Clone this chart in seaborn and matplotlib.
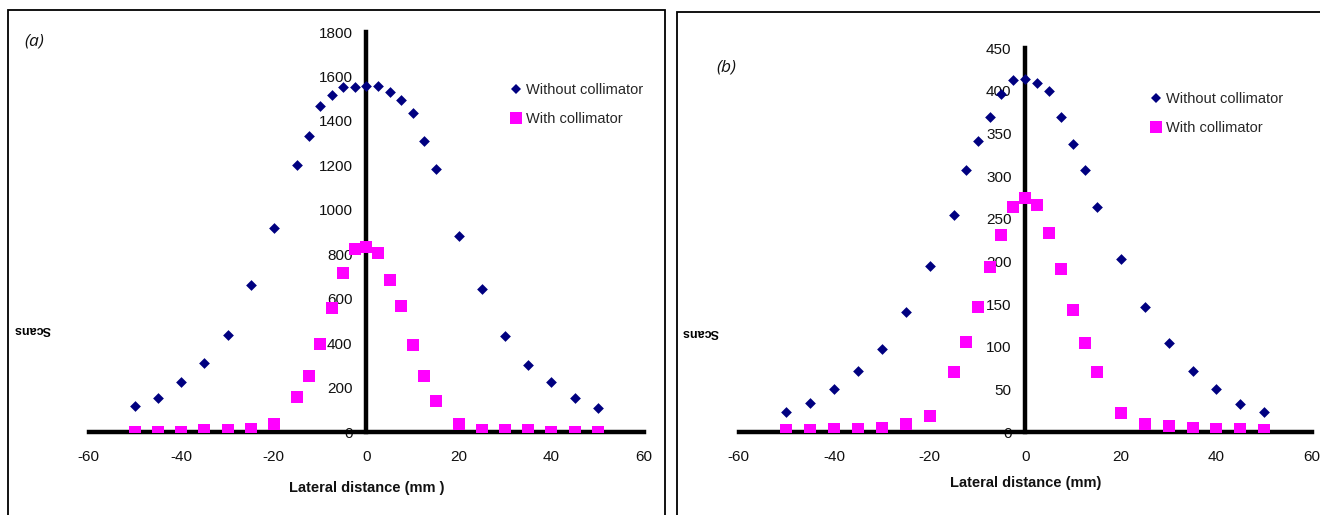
import matplotlib
matplotlib.use("Agg")
import matplotlib.pyplot as plt
import seaborn as sns
import pandas as pd
from matplotlib.patches import Rectangle
from matplotlib.lines import Line2D

sns.set_theme(style="white")
plt.rcParams["font.family"] = ["Liberation Sans", "DejaVu Sans"]
plt.rcParams["axes.unicode_minus"] = False

# Lateral positions (mm) of the measurement points
lateral_mm = [-50, -45, -40, -35, -30, -25, -20, -15, -12.5, -10, -7.5, -5, -2.5,
              0, 2.5, 5, 7.5, 10, 12.5, 15, 20, 25, 30, 35, 40, 45, 50]

# Panel (a)
a_without = [115, 153, 223, 310, 438, 663, 918, 1203, 1330, 1468, 1515, 1551, 1551,
             1555, 1555, 1528, 1495, 1435, 1308, 1183, 880, 643, 430, 303, 223, 151, 108]
a_with = [0, 0, 0, 10, 10, 15, 37, 156, 253, 398, 556, 715, 825,
          831, 805, 685, 565, 393, 253, 141, 37, 10, 10, 10, 0, 0, 0]

# Panel (b)
b_without = [24, 34, 50, 72, 97, 141, 194, 254, 307, 341, 369, 396, 412,
             414, 409, 400, 369, 337, 307, 264, 203, 147, 104, 72, 50, 33, 23]
b_with = [2, 2, 3, 3, 5, 9, 19, 70, 106, 147, 193, 231, 264,
          274, 266, 233, 191, 143, 104, 70, 22, 9, 7, 5, 3, 3, 2]

x_ticks = [-60, -40, -20, 0, 20, 40, 60]
a_y_ticks = [0, 200, 400, 600, 800, 1000, 1200, 1400, 1600, 1800]
b_y_ticks = [0, 50, 100, 150, 200, 250, 300, 350, 400, 450]

series_names = ["Without collimator", "With collimator"]
navy = "#000080"
magenta = "#FF00FF"

W, H = 1320, 515
fig = plt.figure(figsize=(W / 100, H / 100), dpi=100)
fig.patch.set_facecolor("white")

# Panel frames
fig.add_artist(Rectangle((8 / W, -0.02), (665 - 8) / W, (H - 10) / H + 0.02,
                         transform=fig.transFigure, fill=False, ec="black", lw=1.3))
fig.add_artist(Rectangle((677 / W, -0.02), (W + 5 - 677) / W, (H - 12) / H + 0.02,
                         transform=fig.transFigure, fill=False, ec="black", lw=1.3))


def make_panel(rect, without, with_, yticks, ymax, label, label_xy, leg_xy, xlabel, xlabel_y):
    ax = fig.add_axes(rect)
    df = pd.DataFrame({"x": lateral_mm, "without": without, "with": with_})
    sns.scatterplot(data=df, x="x", y="without", marker="D", s=30, color=navy,
                    linewidth=0, ax=ax, zorder=4)
    sns.scatterplot(data=df, x="x", y="with", marker="s", s=68, color=magenta,
                    linewidth=0, ax=ax, zorder=5)
    ax.set_xlim(-60, 60)
    ax.set_ylim(0, ymax)
    ax.set_facecolor("none")
    for side in ("top", "right"):
        ax.spines[side].set_visible(False)
    ax.spines["left"].set_position(("data", 0))
    ax.spines["bottom"].set_position(("data", 0))
    for side in ("left", "bottom"):
        ax.spines[side].set_linewidth(3.2)
        ax.spines[side].set_color("black")
        ax.spines[side].set_zorder(3)
    ax.set_xticks(x_ticks)
    ax.set_xticklabels([str(v) for v in x_ticks])
    ax.set_yticks(yticks)
    ax.set_yticklabels([str(v) for v in yticks])
    ax.tick_params(axis="x", direction="out", length=4, width=2, color="black",
                   labelsize=11, pad=9, labelcolor="#111111")
    ax.tick_params(axis="y", direction="out", length=3, width=2, color="black",
                   labelsize=11, pad=7, labelcolor="#111111")
    ax.set_xlabel("")
    ax.set_ylabel("")
    ax.grid(False)
    fig.text(rect[0] + rect[2] / 2, 1 - xlabel_y / H, xlabel,
             ha="center", va="center", fontsize=10.5, fontweight="bold", color="#111111")
    fig.text(label_xy[0] / W, 1 - label_xy[1] / H, label, ha="center", va="center",
             fontsize=12.5, style="italic", family="Open Sans", color="#111111")
    handles = [Line2D([], [], ls="none", marker="D", ms=5.2, color=navy, mew=0),
               Line2D([], [], ls="none", marker="s", ms=8.5, color=magenta, mew=0)]
    fig.legend(handles, series_names, loc="upper left",
               bbox_to_anchor=(leg_xy[0] / W, 1 - leg_xy[1] / H),
               frameon=False, fontsize=10.5, handlelength=0.6, handletextpad=0.35,
               labelspacing=1.05, borderpad=0, borderaxespad=0)
    return ax


ax_a = make_panel([88.8 / W, 83 / H, (644 - 88.8) / W, 400 / H], a_without, a_with,
                  a_y_ticks, 1800, "(a)", (34, 42), (512, 83), "Lateral distance (mm )", 488)
ax_b = make_panel([738.7 / W, 83 / H, (1312 - 738.7) / W, 384 / H], b_without, b_with,
                  b_y_ticks, 450, "(b)", (726, 68), (1152, 92), "Lateral distance (mm)", 483)

# Small rotated axis captions
fig.text(14 / W, 1 - 329 / H, "Scans", rotation=180, ha="left", va="center",
         fontsize=9, fontweight="bold", color="black")
fig.text(682 / W, 1 - 332 / H, "Scans", rotation=180, ha="left", va="center",
         fontsize=9, fontweight="bold", color="black")

fig.savefig("out.png", dpi=100, facecolor="white")
